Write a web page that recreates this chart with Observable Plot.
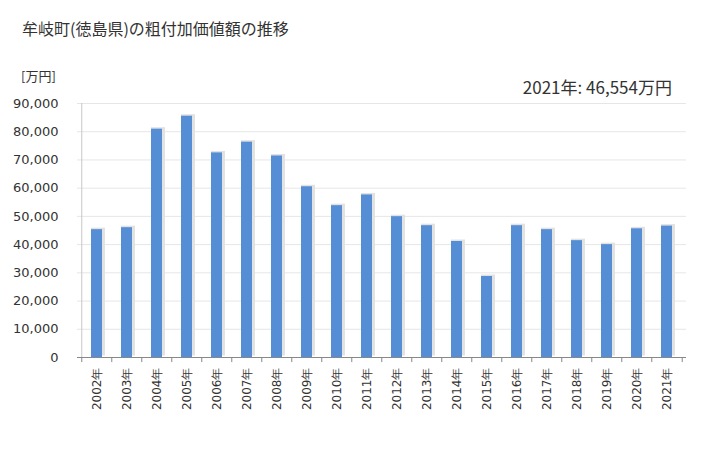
<!DOCTYPE html>
<html>
<head>
<meta charset="utf-8">
<script src="https://cdn.jsdelivr.net/npm/d3@7"></script>
<script src="https://cdn.jsdelivr.net/npm/@observablehq/plot@0.6"></script>
<style>
  body { margin: 0; background: #fff; }
  #wrap { position: relative; width: 728px; height: 450px; font-family: "Noto Sans CJK JP", "DejaVu Sans", sans-serif; color: #333; }
  .lbl { position: absolute; white-space: nowrap; }
</style>
</head>
<body>
<div id="wrap">
  <div class="lbl" id="title" style="left:22px; top:16px; font-size:16px;">牟岐町(徳島県)の粗付加価値額の推移</div>
  <div class="lbl" id="unit" style="left:21px; top:66px; font-size:13px;">[万円]</div>
  <div class="lbl" id="latest" style="right:56px; top:74px; font-size:17px;"></div>
</div>
<script>
const years = ["2002年","2003年","2004年","2005年","2006年","2007年","2008年","2009年","2010年","2011年","2012年","2013年","2014年","2015年","2016年","2017年","2018年","2019年","2020年","2021年"];
const values = [45300, 46000, 80900, 85500, 72500, 76300, 71400, 60500, 53800, 57600, 49900, 46700, 41100, 28700, 46700, 45300, 41400, 40000, 45600, 46554];
const yTicks = [0, 10000, 20000, 30000, 40000, 50000, 60000, 70000, 80000, 90000];
const latestLabel = "2021年: 46,554万円";

const data = years.map((y, i) => ({year: y, value: values[i]}));
const W = 728, H = 450, mL = 77, mR = 42, mT = 103, mB = 93;
const step = (W - mL - mR) / years.length;

const chart = Plot.plot({
  width: W, height: H,
  marginLeft: mL, marginRight: mR, marginTop: mT, marginBottom: mB,
  style: {fontFamily: "'DejaVu Sans', Verdana, sans-serif", color: "#333", background: "transparent"},
  x: {domain: years, paddingInner: 0.64, paddingOuter: 0.32, label: null},
  y: {domain: [0, 90000], label: null},
  marks: [
    Plot.gridY(yTicks, {stroke: "#e6e6e6", strokeOpacity: 1}),
    Plot.ruleX([years[0]], {dx: -step/2, stroke: "#c8c8c8"}),
    Plot.barY(data, {x: "year", y: "value", fill: "#e2e2e2", dx: 1.5, insetLeft: -1.5, insetRight: -1.5, dy: -1.5}),
    Plot.barY(data, {x: "year", y: "value", fill: "#558ed5"}),
    Plot.ruleY([0], {stroke: "#888"}),
    Plot.ruleX(years, {x: d => d, dx: -step/2, y1: 0, y2: -1800, stroke: "#888"}),
    Plot.ruleX([years[years.length - 1]], {dx: step/2, y1: 0, y2: -1800, stroke: "#888"}),
    Plot.axisY(yTicks, {tickSize: 0, tickPadding: 19, fontSize: 13, tickFormat: d => d3.format(",")(d), fill: "#333"}),
    Plot.axisX({tickSize: 0, tickPadding: 10, tickRotate: -90, fontSize: 12, fill: "#333"})
  ]
});
chart.style.position = "absolute";
chart.style.left = "0";
chart.style.top = "0";
document.getElementById("wrap").prepend(chart);
document.getElementById("latest").textContent = latestLabel;
</script>
</body>
</html>
